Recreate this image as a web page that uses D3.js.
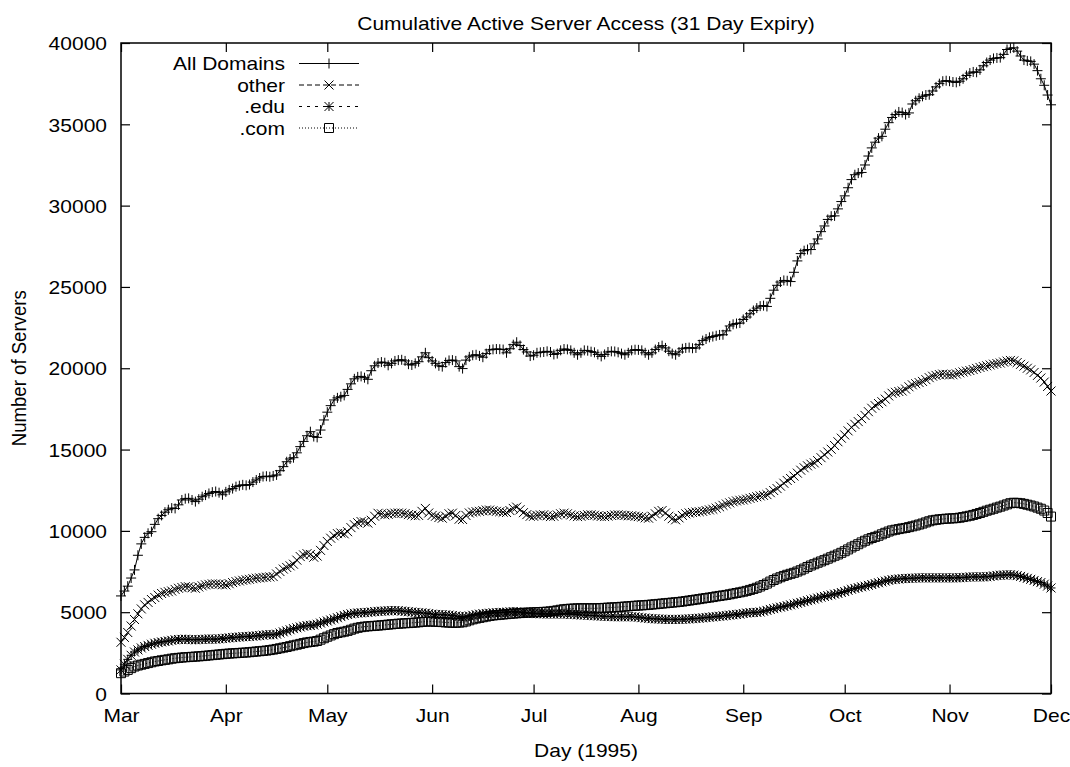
<!DOCTYPE html>
<html>
<head>
<meta charset="utf-8">
<script src="https://cdn.jsdelivr.net/npm/d3@7"></script>
<style>
  body { margin: 0; background: #fff; }
  svg text {
    font-family: "Liberation Sans", Arial, Helvetica, sans-serif;
    font-size: 18.6px;
    fill: #000;
  }
</style>
</head>
<body>
<svg id="chart" width="1070" height="767"></svg>
<script>
// 数据: 1995-03-01 起每天一个值 (到 12-01)
const START_DAY = new Date(Date.UTC(1995, 2, 1));
const END_DAY = new Date(Date.UTC(1995, 11, 1));

const titleText = 'Cumulative Active Server Access (31 Day Expiry)';
const xLabelText = 'Day (1995)';
const yLabelText = 'Number of Servers';

const xTickLabels = ['Mar', 'Apr', 'May', 'Jun', 'Jul', 'Aug', 'Sep', 'Oct', 'Nov', 'Dec'];
const yTickValues = [0, 5000, 10000, 15000, 20000, 25000, 30000, 35000, 40000];

const seriesNames = ['All Domains', 'other', '.edu', '.com'];

const allDomains = [
  6000, 6300, 6600, 7100, 7600, 8500, 9200, 9600, 9850, 9950, 10400, 10750, 10950, 11150, 11300, 11400, 11380, 11600, 11900, 11980, 12000, 11900, 11800, 11950, 12100, 12200, 12300, 12380, 12420, 12350, 12220,
  12400, 12520, 12600, 12720, 12780, 12830, 12800, 12850, 13000, 13130, 13250, 13340, 13360, 13330, 13380, 13440, 13700, 13950, 14250, 14420, 14500, 14800, 15180, 15500, 15850, 16100, 15800, 15750, 16200, 16820,
  17300, 17700, 18050, 18180, 18250, 18330, 18700, 19040, 19350, 19470, 19500, 19420, 19320, 19850, 20150, 20320, 20380, 20340, 20180, 20300, 20450, 20500, 20520, 20450, 20250, 20200, 20300, 20400, 20700, 20950, 20650,
  20450, 20300, 20150, 20100, 20350, 20480, 20500, 20450, 20100, 19980, 20500, 20700, 20800, 20830, 20760, 20680, 20900, 21130, 21160, 21180, 21170, 21150, 20950, 21200, 21450, 21600, 21400, 21150, 21000, 20750,
  20800, 20950, 20980, 21000, 21040, 21000, 20850, 20900, 21100, 21180, 21160, 21100, 20950, 20830, 20950, 21100, 21080, 21020, 20980, 20850, 20730, 20850, 21000, 21040, 21030, 20980, 20900, 20830, 20950, 21100, 21140,
  21130, 21100, 20950, 20830, 20950, 21150, 21300, 21390, 21250, 21050, 20900, 20830, 21000, 21200, 21250, 21270, 21230, 21250, 21450, 21700, 21800, 21900, 21950, 22000, 22050, 22060, 22300, 22600, 22700, 22750, 22780,
  23000, 23150, 23350, 23550, 23700, 23820, 23850, 23800, 24300, 24800, 25100, 25300, 25400, 25380, 25330, 25900, 26600, 27050, 27230, 27300, 27300, 27650, 27950, 28400, 28750, 29150, 29350, 29370, 29800, 30250,
  30600, 31100, 31600, 31900, 32000, 32040, 32500, 33050, 33550, 33900, 34150, 34260, 34700, 35100, 35420, 35600, 35760, 35720, 35600, 35700, 36250, 36450, 36600, 36720, 36800, 36820, 37050, 37300, 37500, 37650, 37680,
  37650, 37600, 37580, 37650, 37800, 38000, 38150, 38220, 38200, 38350, 38600, 38800, 38950, 39050, 39080, 39100, 39300, 39600, 39680, 39700, 39500, 39200, 38950, 38900, 38870, 38700, 38300, 37800, 37400, 36800,
  36200
];

const other = [
  3150, 3450, 3750, 4150, 4550, 4900, 5200, 5450, 5600, 5780, 5900, 6050, 6150, 6220, 6260, 6300, 6400, 6470, 6520, 6570, 6560, 6500, 6470, 6550, 6620, 6680, 6710, 6740, 6740, 6720, 6690,
  6680, 6750, 6820, 6880, 6920, 6960, 6990, 7020, 7060, 7090, 7110, 7130, 7150, 7170, 7190, 7350, 7500, 7650, 7750, 7850, 7950, 8200, 8420, 8520, 8600, 8550, 8380, 8450, 8800, 9100,
  9350, 9550, 9700, 9830, 9870, 9820, 9950, 10200, 10380, 10500, 10570, 10550, 10480, 10650, 10900, 11080, 11050, 10990, 11020, 11080, 11090, 11100, 11090, 11060, 11000, 10970, 10930, 10950, 11200, 11380, 11100,
  10950, 10900, 10820, 10780, 10900, 11050, 11090, 10950, 10720, 10700, 10950, 11100, 11150, 11180, 11200, 11240, 11280, 11280, 11240, 11200, 11180, 11150, 11130, 11250, 11380, 11460, 11300, 11120, 11000, 10900,
  10900, 10950, 10980, 10990, 10930, 10880, 10900, 10980, 11050, 11090, 11050, 10980, 10920, 10880, 10900, 10950, 10990, 10990, 10960, 10920, 10890, 10880, 10910, 10950, 10980, 10990, 10970, 10950, 10930, 10930, 10900,
  10880, 10850, 10800, 10780, 10900, 11050, 11200, 11250, 11100, 10900, 10750, 10680, 10800, 10950, 11050, 11100, 11130, 11160, 11180, 11200, 11250, 11290, 11330, 11400, 11480, 11570, 11650, 11720, 11790, 11840, 11880,
  11900, 11950, 12000, 12050, 12100, 12150, 12180, 12230, 12350, 12480, 12600, 12750, 12930, 13100, 13220, 13370, 13550, 13730, 13880, 14000, 14100, 14180, 14320, 14500, 14680, 14850, 15020, 15250, 15480, 15700,
  15900, 16150, 16370, 16550, 16720, 16900, 17100, 17330, 17540, 17700, 17830, 17940, 18100, 18300, 18460, 18520, 18570, 18600, 18720, 18860, 18980, 19050, 19120, 19190, 19300, 19420, 19510, 19560, 19610, 19640, 19620,
  19590, 19600, 19650, 19720, 19770, 19820, 19860, 19920, 19990, 20050, 20100, 20150, 20200, 20250, 20290, 20320, 20380, 20440, 20480, 20450, 20350, 20240, 20130, 20000, 19900, 19740, 19560, 19400, 19150, 18880,
  18600
];

const edu = [
  1450, 1800, 2100, 2350, 2550, 2680, 2800, 2890, 2960, 3030, 3090, 3130, 3170, 3200, 3230, 3270, 3300, 3320, 3330, 3340, 3320, 3310, 3300, 3320, 3330, 3340, 3350, 3345, 3340, 3360, 3380,
  3400, 3420, 3440, 3460, 3470, 3490, 3500, 3510, 3530, 3540, 3560, 3590, 3610, 3620, 3610, 3650, 3720, 3790, 3850, 3920, 3990, 4040, 4090, 4140, 4170, 4190, 4210, 4260, 4330, 4400,
  4460, 4520, 4590, 4660, 4730, 4800, 4860, 4900, 4930, 4950, 4960, 4975, 4990, 5010, 5035, 5050, 5060, 5075, 5085, 5095, 5100, 5090, 5070, 5050, 5030, 5010, 4990, 4970, 4955, 4940, 4920,
  4880, 4860, 4850, 4840, 4830, 4820, 4800, 4770, 4740, 4720, 4730, 4770, 4810, 4850, 4880, 4900, 4920, 4940, 4955, 4970, 4980, 4990, 5000, 5015, 5030, 5025, 5000, 4975, 4950, 4930,
  4920, 4910, 4900, 4895, 4890, 4890, 4890, 4890, 4890, 4890, 4880, 4870, 4855, 4840, 4830, 4820, 4810, 4795, 4780, 4770, 4760, 4750, 4740, 4730, 4720, 4720, 4720, 4720, 4720, 4720, 4710,
  4690, 4660, 4640, 4620, 4600, 4590, 4580, 4570, 4560, 4555, 4555, 4555, 4560, 4565, 4575, 4585, 4600, 4615, 4630, 4650, 4670, 4690, 4710, 4730, 4750, 4770, 4790, 4820, 4840, 4860, 4880,
  4920, 4950, 4970, 4980, 4990, 5010, 5060, 5110, 5170, 5220, 5270, 5310, 5350, 5400, 5450, 5500, 5550, 5600, 5650, 5710, 5760, 5810, 5870, 5920, 5970, 6020, 6060, 6110, 6150, 6210,
  6270, 6340, 6410, 6460, 6510, 6560, 6600, 6650, 6700, 6760, 6810, 6860, 6910, 6960, 7000, 7020, 7040, 7060, 7070, 7080, 7090, 7100, 7110, 7110, 7110, 7110, 7110, 7110, 7110, 7110, 7110,
  7110, 7110, 7110, 7120, 7130, 7150, 7165, 7170, 7170, 7170, 7170, 7180, 7200, 7230, 7260, 7275, 7285, 7295, 7300, 7280, 7250, 7200, 7140, 7080, 7020, 6950, 6880, 6820, 6720, 6610,
  6490
];

const com = [
  1250, 1350, 1450, 1560, 1660, 1720, 1770, 1820, 1870, 1920, 1970, 2000, 2040, 2070, 2100, 2140, 2170, 2190, 2210, 2230, 2240, 2255, 2270, 2285, 2300, 2320, 2340, 2360, 2380, 2400, 2420,
  2440, 2455, 2470, 2480, 2495, 2510, 2520, 2540, 2560, 2580, 2600, 2620, 2640, 2670, 2700, 2740, 2780, 2820, 2860, 2910, 2960, 3000, 3050, 3100, 3140, 3170, 3190, 3230, 3310, 3400,
  3490, 3570, 3650, 3720, 3760, 3800, 3850, 3920, 3990, 4040, 4080, 4110, 4130, 4145, 4160, 4175, 4195, 4215, 4235, 4255, 4275, 4290, 4305, 4320, 4330, 4345, 4360, 4380, 4400, 4420, 4430,
  4420, 4410, 4400, 4390, 4370, 4360, 4350, 4350, 4360, 4380, 4430, 4500, 4560, 4610, 4650, 4690, 4730, 4770, 4800, 4820, 4840, 4860, 4880, 4900, 4915, 4930, 4945, 4960, 4970, 4980,
  4990, 5000, 5010, 5020, 5030, 5050, 5080, 5110, 5150, 5180, 5200, 5215, 5225, 5235, 5240, 5240, 5240, 5240, 5240, 5245, 5255, 5265, 5280, 5290, 5300, 5315, 5330, 5345, 5360, 5380, 5395,
  5410, 5420, 5435, 5450, 5470, 5490, 5510, 5530, 5550, 5570, 5590, 5610, 5630, 5655, 5685, 5715, 5745, 5775, 5805, 5840, 5870, 5900, 5930, 5970, 6000, 6030, 6060, 6100, 6140, 6180, 6220,
  6260, 6310, 6370, 6430, 6500, 6580, 6670, 6760, 6880, 6980, 7070, 7150, 7230, 7300, 7360, 7420, 7500, 7580, 7680, 7780, 7870, 7950, 8040, 8120, 8200, 8290, 8380, 8470, 8550, 8650,
  8750, 8860, 8980, 9080, 9180, 9290, 9390, 9480, 9560, 9630, 9700, 9790, 9880, 9960, 10030, 10070, 10110, 10150, 10180, 10230, 10280, 10330, 10390, 10450, 10520, 10590, 10650, 10680, 10710, 10730, 10750,
  10760, 10770, 10785, 10810, 10850, 10890, 10930, 10980, 11040, 11100, 11170, 11240, 11300, 11360, 11430, 11490, 11560, 11630, 11700, 11730, 11720, 11700, 11660, 11610, 11560, 11500, 11430, 11360, 11250, 11100,
  10880
];

// 点的形状 (gnuplot 风格)
const markers = {
  plus: s => `M${-s},0H${s}M0,${-s}V${s}`,
  cross: s => `M${-s},${-s}L${s},${s}M${-s},${s}L${s},${-s}`,
  star: s => `M${-s},0H${s}M0,${-s}V${s}M${-s},${-s}L${s},${s}M${-s},${s}L${s},${-s}`,
  square: s => `M${-s},${-s}H${s}V${s}H${-s}Z`
};

class ServerChart {
  static defaultOptions = {
    width: 1070,
    height: 767,
    margin: { top: 43, left: 121, right: 19, bottom: 73.5 },
    tickSize: 9,
    stretch: 1.13  // 原图横向被拉宽, 文字也要跟着拉
  };

  constructor(svg, options) {
    this.options = { ...ServerChart.defaultOptions, ...options };
    this.element = svg;
    this.initScales();
  }

  initScales() {
    let { top, left, right, bottom } = this.options.margin;
    let { width, height } = this.options;
    this.scaleX = d3.scaleUtc().domain([START_DAY, END_DAY]).range([left, width - right]);
    this.scaleY = d3.scaleLinear().domain([0, 40000]).range([height - bottom, top]);
  }

  // 拉宽的文字
  text(x, y, str, anchor, rotate) {
    let { stretch } = this.options;
    let g = this.element
      .append('g')
      .attr('transform', `translate(${x},${y}) scale(${stretch},1)` + (rotate ? ` rotate(${rotate})` : ''));
    g.append('text').attr('text-anchor', anchor).text(str);
  }

  renderFrame() {
    let [x0, x1] = this.scaleX.range();
    let [y0, y1] = this.scaleY.range();
    this.element
      .append('rect')
      .attr('x', x0)
      .attr('y', y1)
      .attr('width', x1 - x0)
      .attr('height', y0 - y1)
      .attr('fill', 'none')
      .attr('stroke', '#000')
      .attr('stroke-width', 1.5);
  }

  renderAxises() {
    let { tickSize, stretch } = this.options;
    let { scaleX, scaleY } = this;
    let [x0, x1] = scaleX.range();
    let [y0, y1] = scaleY.range();
    let monthTicks = d3.utcMonth.range(START_DAY, d3.utcDay.offset(END_DAY, 1));

    let bottomAxis = d3
      .axisBottom(scaleX)
      .tickValues(monthTicks)
      .tickFormat((d, i) => xTickLabels[i])
      .tickSize(-tickSize)
      .tickPadding(15);
    let leftAxis = d3
      .axisLeft(scaleY)
      .tickValues(yTickValues)
      .tickFormat(d3.format('d'))
      .tickSize(-tickSize)
      .tickPadding(14);
    let topAxis = d3.axisTop(scaleX).tickValues(monthTicks).tickFormat('').tickSize(-tickSize);
    let rightAxis = d3.axisRight(scaleY).tickValues(yTickValues).tickFormat('').tickSize(-tickSize);

    let groups = [
      [bottomAxis, `translate(0,${y0})`],
      [leftAxis, `translate(${x0},0)`],
      [topAxis, `translate(0,${y1})`],
      [rightAxis, `translate(${x1},0)`]
    ];
    groups.forEach(([axis, transform]) => {
      let g = this.element.append('g').attr('transform', transform).call(axis);
      g.select('.domain').remove();
      g.selectAll('.tick line').attr('stroke', '#000').attr('stroke-width', 1.2);
    });

    // 刻度文字拉宽
    this.element
      .selectAll('.tick text')
      .attr('font-size', null)
      .attr('font-family', null)
      .each(function() {
        let t = d3.select(this);
        let x = +t.attr('x') || 0;
        t.attr('x', x / stretch).attr('transform', `scale(${stretch},1)`);
        if (t.attr('dy') === '0.32em') t.attr('dy', '0.36em');
      });
  }

  renderLabels() {
    let [x0, x1] = this.scaleX.range();
    let cx = (x0 + x1) / 2;
    let cy = d3.mean(this.scaleY.range());
    this.text(cx, 30, titleText, 'middle');
    this.text(cx, 757, xLabelText, 'middle');
    this.text(25.5, cy, yLabelText, 'middle', -90);
  }

  renderSeries(values, style) {
    let { scaleX, scaleY } = this;
    let data = values.map((v, i) => ({ date: d3.utcDay.offset(START_DAY, i), value: v }));
    let line = d3
      .line()
      .x(d => scaleX(d.date))
      .y(d => scaleY(d.value));

    this.element
      .append('path')
      .attr('d', line(data))
      .attr('fill', 'none')
      .attr('stroke', '#000')
      .attr('stroke-width', 1)
      .attr('stroke-dasharray', style.dash);

    this.element
      .append('g')
      .selectAll('path')
      .data(data)
      .join('path')
      .attr('transform', d => `translate(${scaleX(d.date)},${scaleY(d.value)})`)
      .attr('d', markers[style.marker](style.size))
      .attr('fill', 'none')
      .attr('stroke', '#000')
      .attr('stroke-width', 1);
  }

  renderLegend(styles) {
    let rowY = [63.5, 85, 106.5, 128];
    seriesNames.forEach((name, i) => {
      let y = rowY[i];
      let style = styles[i];
      this.text(285, y + 6.6, name, 'end');
      this.element
        .append('line')
        .attr('x1', 299)
        .attr('x2', 359)
        .attr('y1', y)
        .attr('y2', y)
        .attr('stroke', '#000')
        .attr('stroke-width', 1)
        .attr('stroke-dasharray', style.dash);
      this.element
        .append('path')
        .attr('transform', `translate(329,${y})`)
        .attr('d', markers[style.marker](style.size))
        .attr('fill', 'none')
        .attr('stroke', '#000')
        .attr('stroke-width', 1);
    });
  }

  render(seriesList, styles) {
    this.renderFrame();
    this.renderAxises();
    this.renderLabels();
    seriesList.forEach((values, i) => this.renderSeries(values, styles[i]));
    this.renderLegend(styles);
  }
}

const styles = [
  { marker: 'plus', size: 5, dash: null },
  { marker: 'cross', size: 4.5, dash: '5,3' },
  { marker: 'star', size: 4.5, dash: '3,5' },
  { marker: 'square', size: 4.5, dash: '1,2' }
];

let chart = new ServerChart(d3.select('#chart'));
chart.render([allDomains, other, edu, com], styles);
</script>
</body>
</html>
